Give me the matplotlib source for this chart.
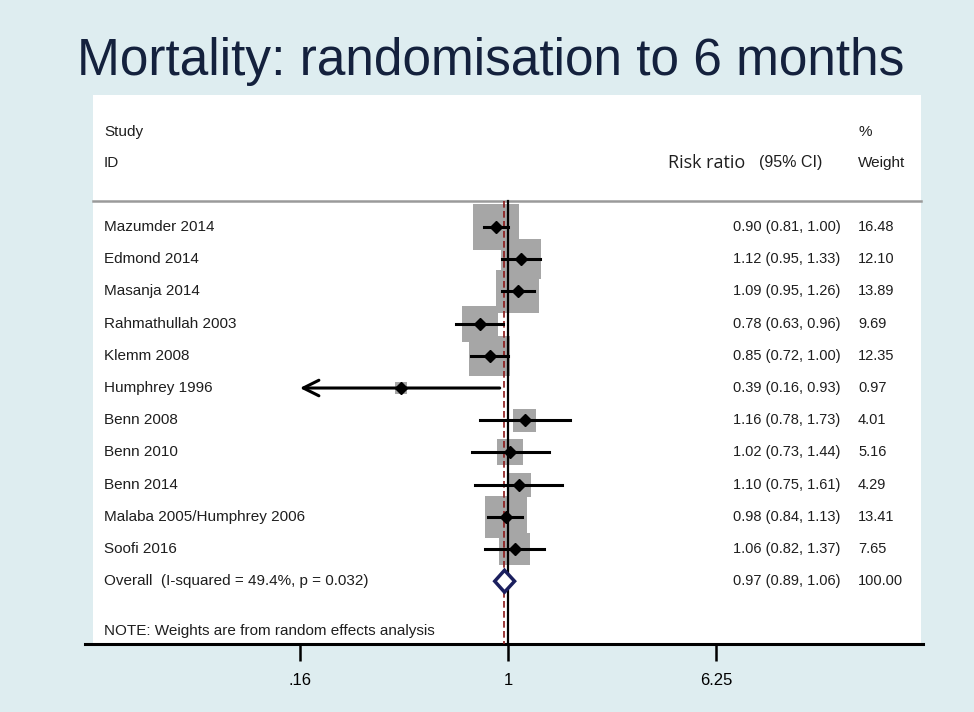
import numpy as np
import matplotlib
matplotlib.use("Agg")
import matplotlib.pyplot as plt
from matplotlib.patches import Polygon, Rectangle

studies = ["Mazumder 2014", "Edmond 2014", "Masanja 2014", "Rahmathullah 2003",
           "Klemm 2008", "Humphrey 1996", "Benn 2008", "Benn 2010", "Benn 2014",
           "Malaba 2005/Humphrey 2006", "Soofi 2016"]
rr = [0.90, 1.12, 1.09, 0.78, 0.85, 0.39, 1.16, 1.02, 1.10, 0.98, 1.06]
lower = [0.81, 0.95, 0.95, 0.63, 0.72, 0.16, 0.78, 0.73, 0.75, 0.84, 0.82]
upper = [1.00, 1.33, 1.26, 0.96, 1.00, 0.93, 1.73, 1.44, 1.61, 1.13, 1.37]
weights = [16.48, 12.10, 13.89, 9.69, 12.35, 0.97, 4.01, 5.16, 4.29, 13.41, 7.65]

overall_label = "Overall  (I-squared = 49.4%, p = 0.032)"
overall_rr, overall_lo, overall_hi = 0.97, 0.89, 1.06
overall_weight = "100.00"

tick_values = [0.16, 1, 6.25]
tick_labels = [".16", "1", "6.25"]

title = "Mortality: randomisation to 6 months"
note = "NOTE: Weights are from random effects analysis"


def main():
    plt.rcParams["font.family"] = ["Liberation Sans", "DejaVu Sans"]
    bg = "#deedf0"
    fig = plt.figure(figsize=(9.74, 7.12), dpi=100, facecolor=bg)

    # white panel behind the forest plot
    fig.patches.append(Rectangle((93 / 974, 68 / 712), (921 - 93) / 974, (617 - 68) / 712,
                                 transform=fig.transFigure, facecolor="white",
                                 edgecolor="none", zorder=-5))

    fig.text(0.5035, 1 - 61 / 712, title, ha="center", va="center",
             fontsize=37, color="#14213d")

    ax = fig.add_axes([85 / 974, 68 / 712, (923 - 85) / 974, (644 - 95) / 712])
    ax.set_facecolor("none")
    ax.set_zorder(1)
    ax.set_xscale("log")
    ax.set_xlim(0.0241, 38.7)
    ax.set_ylim(12.95, -4.1)

    n = len(studies)
    ypos = np.arange(n)

    # weight boxes
    side_pt = 11.5 * np.sqrt(weights) * 0.72
    ax.scatter(rr, ypos, marker="s", s=side_pt ** 2, color="#a6a6a6",
               edgecolors="none", zorder=2)

    # null line and overall line
    ax.plot([1, 1], [-0.8, 12.95], color="black", lw=1.6, zorder=3)
    ax.plot([overall_rr, overall_rr], [-0.8, 12.95], color="#8b1a1a", lw=1.2,
            dashes=(4, 2), zorder=3)

    for i in range(n):
        if lower[i] <= tick_values[0]:
            ax.annotate("", xy=(lower[i], ypos[i]), xytext=(upper[i], ypos[i]),
                        arrowprops=dict(arrowstyle="->", lw=2.2, color="black",
                                        mutation_scale=28, shrinkA=0, shrinkB=0),
                        zorder=4)
        else:
            ax.plot([lower[i], upper[i]], [ypos[i], ypos[i]], color="black",
                    lw=2.2, zorder=4)
    ax.plot(rr, ypos, "D", color="black", markersize=6, linestyle="none", zorder=5)

    # overall diamond
    yo = n
    h = 0.34
    ax.add_patch(Polygon([(overall_lo, yo), (overall_rr, yo - h), (overall_hi, yo),
                          (overall_rr, yo + h)], closed=True, facecolor="white",
                         edgecolor="#1b1f5e", lw=2.5, zorder=5))

    # header separator
    tr = ax.get_yaxis_transform()
    ax.plot([(93 - 85) / 838, (921 - 85) / 838], [-0.81, -0.81], color="#9a9a9a",
            lw=1.8, transform=tr, clip_on=False, zorder=1)

    txt = "#1e1e1e"
    fs = 11
    fn = 10.5
    x_name = (104 - 85) / 838
    x_ci = (733 - 85) / 838
    x_w = (858 - 85) / 838
    ax.text(x_name, -2.95, "Study", transform=tr, va="center", fontsize=fs, color=txt)
    ax.text(x_name, -1.99, "ID", transform=tr, va="center", fontsize=fs, color=txt)
    ax.text((668 - 85) / 838, -1.99, "Risk ratio", transform=tr, va="center",
            fontsize=13, color=txt, family="Open Sans")
    ax.text((822 - 85) / 838, -1.99, "(95% CI)", transform=tr, va="center", ha="right",
            fontsize=11.5, color=txt)
    ax.text(x_w, -2.95, "%", transform=tr, va="center", fontsize=fs, color=txt)
    ax.text(x_w, -1.99, "Weight", transform=tr, va="center", fontsize=fs, color=txt)

    for i in range(n):
        ax.text(x_name, ypos[i], studies[i], transform=tr, va="center", fontsize=fs,
                color=txt)
        ax.text(x_ci, ypos[i], "%.2f (%.2f, %.2f)" % (rr[i], lower[i], upper[i]),
                transform=tr, va="center", fontsize=fn, color=txt)
        ax.text(x_w, ypos[i], "%.2f" % weights[i], transform=tr, va="center",
                fontsize=fn, color=txt)
    ax.text(x_name, yo, overall_label, transform=tr, va="center", fontsize=fs, color=txt)
    ax.text(x_ci, yo, "%.2f (%.2f, %.2f)" % (overall_rr, overall_lo, overall_hi),
            transform=tr, va="center", fontsize=fn, color=txt)
    ax.text(x_w, yo, overall_weight, transform=tr, va="center", fontsize=fn, color=txt)
    ax.text(x_name, 12.55, note, transform=tr, va="center", fontsize=fs, color=txt)

    for s in ["top", "left", "right"]:
        ax.spines[s].set_visible(False)
    ax.spines["bottom"].set_linewidth(2.2)
    ax.set_yticks([])
    ax.set_xticks(tick_values)
    ax.set_xticklabels(tick_labels)
    ax.minorticks_off()
    ax.tick_params(axis="x", length=12, width=1.8, labelsize=12, pad=9,
                   colors="black")

    fig.savefig("out.png", dpi=100, facecolor=bg)


if __name__ == "__main__":
    main()
